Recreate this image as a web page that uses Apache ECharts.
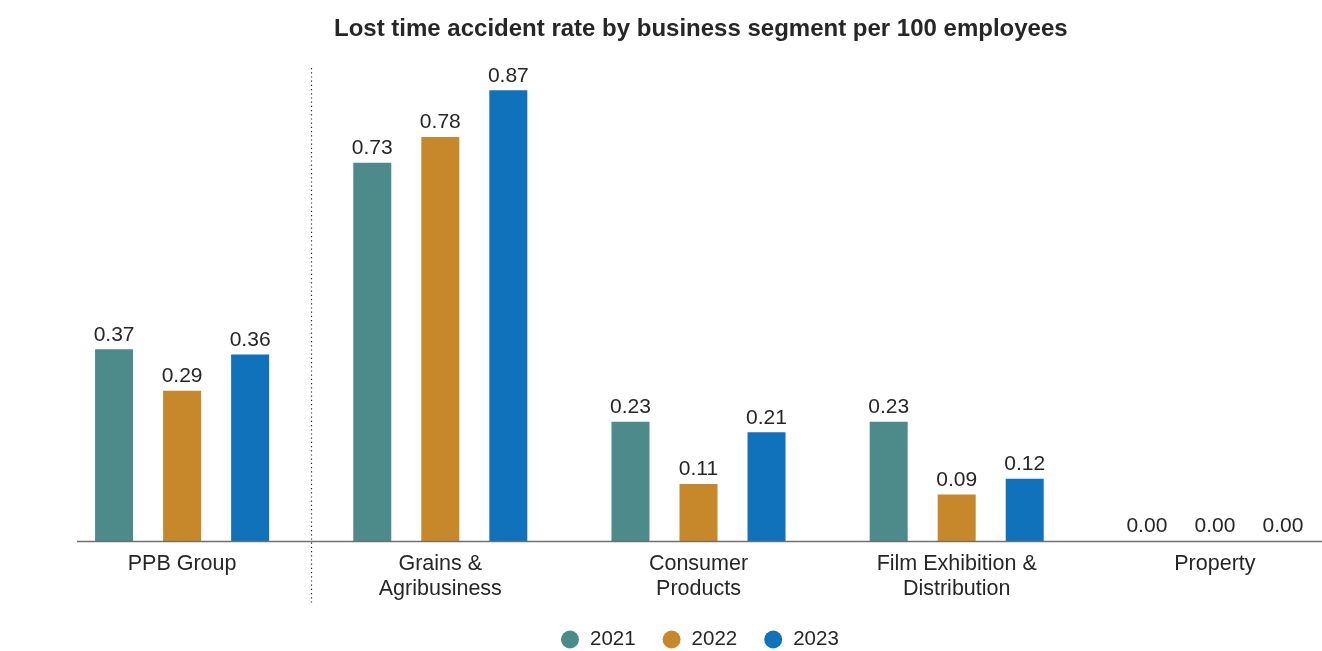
<!DOCTYPE html>
<html>
<head>
<meta charset="utf-8">
<script src="https://cdn.jsdelivr.net/npm/echarts@6/dist/echarts.min.js"></script>
<style>html,body{margin:0;padding:0;background:#fff}#c{width:1322px;height:651px}</style>
</head>
<body>
<div id="c"></div>
<script>
const categories = ['PPB Group', 'Grains &\nAgribusiness', 'Consumer\nProducts', 'Film Exhibition &\nDistribution', 'Property'];
const seriesNames = ['2021', '2022', '2023'];
const values2021 = [0.37, 0.73, 0.23, 0.23, 0.00];
const values2022 = [0.29, 0.78, 0.11, 0.09, 0.00];
const values2023 = [0.36, 0.87, 0.21, 0.12, 0.00];
const colors = ['#4D8A8A', '#C6882A', '#1072BA'];

const FONT = 'Liberation Sans, Arial, sans-serif';
const TXT = '#262626';
const chart = echarts.init(document.getElementById('c'));

function mk(name, data, color) {
  return {
    name: name, type: 'bar', data: data, barWidth: 38, barGap: '79%',
    itemStyle: { color: color },
    label: { show: true, position: 'top', distance: 4, color: TXT, fontSize: 21, fontFamily: FONT,
      formatter: p => p.value.toFixed(2) }
  };
}

chart.setOption({
  animation: false,
  title: { text: 'Lost time accident rate by business segment per 100 employees', left: 329, top: 12,
    textStyle: { fontSize: 24, fontWeight: 'bold', color: TXT, fontFamily: FONT } },
  legend: { data: seriesNames, left: 556, top: 624, icon: 'circle', itemWidth: 18, itemHeight: 18, itemGap: 27,
    textStyle: { fontSize: 20.5, color: TXT, fontFamily: FONT, padding: [0, 0, 0, 6] } },
  grid: { left: 53, width: 1291, top: 23, height: 518, containLabel: false, outerBoundsMode: 'none' },
  xAxis: { type: 'category', data: categories,
    axisLine: { show: false }, axisTick: { show: false },
    axisLabel: { color: TXT, fontSize: 21.5, fontFamily: FONT, margin: 11, lineHeight: 25, interval: 0 } },
  yAxis: { type: 'value', min: 0, max: 1, show: false, splitLine: { show: false } },
  series: [mk(seriesNames[0], values2021, colors[0]), mk(seriesNames[1], values2022, colors[1]), mk(seriesNames[2], values2023, colors[2])]
});

const y0 = chart.convertToPixel({ yAxisIndex: 0 }, 0);
const c0 = chart.convertToPixel({ xAxisIndex: 0 }, 0);
const c1 = chart.convertToPixel({ xAxisIndex: 0 }, 1);
const sep = Math.round((c0 + c1) / 2) + 0.5;
chart.setOption({
  graphic: [
    { type: 'line', shape: { x1: 77, y1: y0 + 0.5, x2: 1322, y2: y0 + 0.5 }, style: { stroke: '#707070', lineWidth: 1.5 }, z: 10 },
    { type: 'line', shape: { x1: sep, y1: 68, x2: sep, y2: 605 }, style: { stroke: '#222', lineWidth: 1.2, lineDash: [1.2, 3] }, z: 10 }
  ]
});
</script>
</body>
</html>
